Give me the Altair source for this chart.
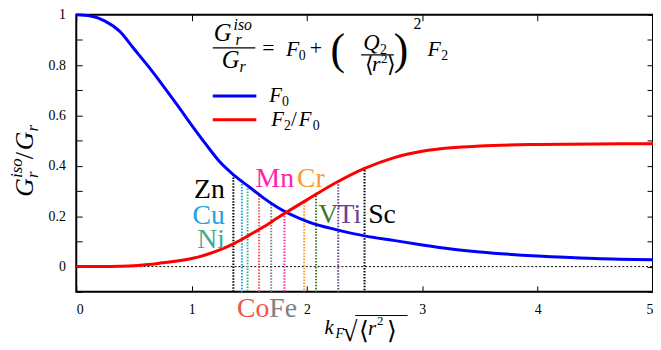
import altair as alt
import pandas as pd

# ---- data ----
kf = [0, 0.125, 0.25, 0.375, 0.5, 0.625, 0.75, 0.875, 1.0, 1.125, 1.25, 1.375, 1.5, 1.625, 1.75,
      2.0, 2.25, 2.5, 2.75, 3.0, 3.25, 3.5, 4.0, 4.5, 5.0]
f0 = [1.0, 0.995, 0.975, 0.935, 0.865, 0.795, 0.72, 0.642, 0.562, 0.485, 0.413, 0.36, 0.316, 0.272, 0.234,
      0.18, 0.147, 0.122, 0.104, 0.086, 0.07, 0.058, 0.042, 0.032, 0.027]
f2f0 = [0.0, 0.0, 0.0, 0.001, 0.003, 0.008, 0.015, 0.022, 0.032, 0.047, 0.067, 0.093, 0.125, 0.158, 0.195,
        0.265, 0.333, 0.39, 0.432, 0.458, 0.472, 0.479, 0.485, 0.487, 0.488]
series_names = ["F0", "F2/F0"]

elements = ["Zn", "Cu", "Ni", "Co", "Fe", "Mn", "Cr", "V", "Ti", "Sc"]
el_x = [1.362, 1.436, 1.485, 1.585, 1.69, 1.805, 1.976, 2.079, 2.271, 2.499]
el_top = [0.366, 0.34, 0.322, 0.283, 0.248, 0.213, 0.255, 0.293, 0.339, 0.395]

x_ticks = [0, 1, 2, 3, 4, 5]
y_ticks = [round(-0.1 + 0.1 * i, 1) for i in range(12)]

# ---- styles / layout ----
series_colors = ["#0000ff", "#ff0000"]
el_colors = ["#000000", "#1fa3e0", "#45aa8a", "#f2544c", "#7f7f7f",
             "#ff22aa", "#fb9b2f", "#3d7a28", "#6a3f96", "#000000"]
lab_x = [1.288, 1.288, 1.288, 1.674, 1.674, 1.554, 1.914, 2.098, 2.265, 2.531]
lab_y = [0.272, 0.171, 0.074, -0.202, -0.202, 0.315, 0.315, 0.175, 0.175, 0.175]
lab_align = ["right", "right", "right", "right", "left", "left", "left", "left", "left", "left"]

W, H = 583, 280
OX, OY = 77, 13          # page position of the plot origin
SERIF = "Liberation Serif"

xs = alt.Scale(domain=[0, 5], nice=False, zero=False)
ys = alt.Scale(domain=[-0.1, 1.0], nice=False, zero=False)

df_curves = pd.DataFrame({
    "kf": kf + kf,
    "val": f0 + f2f0,
    "series": [series_names[0]] * len(kf) + [series_names[1]] * len(kf),
})
df_el = pd.DataFrame({"el": elements, "x": el_x, "top": el_top, "col": el_colors,
                      "lx": lab_x, "ly": lab_y, "al": lab_align})
one = pd.DataFrame({"a": [0]})

ylabel_expr = "(round(datum.value*10) % 2 == 0 && datum.value > -0.05) ? format(datum.value, '~g') : ''"

curves = alt.Chart(df_curves).mark_line(strokeWidth=3, interpolate="monotone").encode(
    x=alt.X("kf:Q", scale=xs, axis=alt.Axis(values=x_ticks, title=None, offset=-6, tickSize=6,
                                            labelPadding=11, domain=False, grid=False, format="~g")),
    y=alt.Y("val:Q", scale=ys, axis=alt.Axis(values=y_ticks, title=None, offset=-6, tickSize=6,
                                             labelPadding=11, domain=False, grid=False,
                                             labelExpr=ylabel_expr)),
    color=alt.Color("series:N", sort=series_names,
                    scale=alt.Scale(domain=series_names, range=series_colors), legend=None),
)

ghost = alt.Chart(df_curves).mark_point(opacity=0).encode(
    x=alt.X("kf:Q", scale=xs, axis=alt.Axis(orient="top", values=x_ticks, title=None, offset=-6,
                                            tickSize=6, labels=False, domain=False, grid=False)),
    y=alt.Y("val:Q", scale=ys, axis=alt.Axis(orient="right", values=y_ticks, title=None, offset=-6,
                                             tickSize=6, labels=False, domain=False, grid=False)),
)

zero = alt.Chart(one).mark_rule(color="black", strokeWidth=1, strokeDash=[2, 2]).encode(
    y=alt.YDatum(0, scale=ys, axis=None), x=alt.value(0), x2=alt.value(W))

rules = alt.Chart(df_el).mark_rule(strokeWidth=2, strokeDash=[1.5, 1.5]).encode(
    x=alt.X("x:Q", scale=xs, axis=None),
    y=alt.Y("top:Q", scale=ys, axis=None),
    y2=alt.value(H),
    color=alt.Color("col:N", scale=None),
)


def el_labels(align):
    return alt.Chart(df_el).transform_filter(alt.datum.al == align).mark_text(
        font=SERIF, fontSize=28, align=align, baseline="alphabetic").encode(
        x=alt.X("lx:Q", scale=xs, axis=None),
        y=alt.Y("ly:Q", scale=ys, axis=None),
        text="el:N",
        color=alt.Color("col:N", scale=None),
    )


def T(s, px, py, size, italic=False, angle=None, dx=0, dy=0):
    """text piece at page coordinates (px, py) = left edge / baseline"""
    kw = dict(text=s, fontSize=size, font=SERIF, color="black", align="left", baseline="alphabetic")
    if italic:
        kw["fontStyle"] = "italic"
    if angle is not None:
        kw["angle"] = angle
    if dx:
        kw["dx"] = dx
    if dy:
        kw["dy"] = dy
    return alt.Chart(one).mark_text(**kw).encode(x=alt.value(px - OX), y=alt.value(py - OY))


def R(x1, x2, y, w=1.2, color="black"):
    """horizontal stroke at page coordinates"""
    return alt.Chart(one).mark_rule(color=color, strokeWidth=w).encode(
        x=alt.value(x1 - OX), x2=alt.value(x2 - OX), y=alt.value(y - OY))

# equation
eq = [
    T("G", 216, 40, 25, True), T("iso", 236, 28, 16, True), T("r", 238, 44, 16, True),
    R(215, 258, 46.5),
    T("G", 224, 67, 25, True), T("r", 242, 71, 16, True),
    T("=", 265, 54, 22), T("F", 289, 55, 22, True), T("0", 302, 59, 14),
    T("+", 313, 54, 22), T("(", 334, 63, 44),
    T("Q", 367, 49, 23, True), T("2", 384, 53, 14),
    R(365, 398, 53.5),
    T("⟨", 369, 71, 22), T("r", 376, 70, 22, True), T("2", 385, 62, 13), T("⟩", 391, 71, 22),
    T(")", 398, 63, 44), T("2", 418, 27, 16),
    T("F", 432, 55, 22, True), T("2", 446, 59, 14),
]

# legend (drawn by hand, next to the formula)
legend = [
    R(215, 259, 95, 3, series_colors[0]), R(215, 259, 119, 3, series_colors[1]),
    T("F", 272, 101, 21, True), T("0", 285, 105, 14),
    T("F", 274, 125, 21, True), T("2", 287, 129, 14), T("/", 294, 125, 21),
    T("F", 302, 125, 21, True), T("0", 316, 129, 14),
]

# x title
xt = [
    T("k", 328, 336, 21, True), T("F", 339, 340, 14, True), T("√", 346, 343, 28),
    R(359, 412, 317, 1),
    T("⟨", 363, 341, 25), T("r", 372, 337, 21, True), T("2", 381, 327, 13), T("⟩", 391, 341, 25),
]

# y title (rotated, reads bottom to top)
yt = [
    T("G", 33, 197, 26, True, angle=270),
    T("iso", 33, 197, 17, True, angle=270, dx=19, dy=-11),
    T("r", 33, 197, 17, True, angle=270, dx=19, dy=5),
    T("/", 33, 197, 26, angle=270, dx=38),
    T("G", 33, 197, 26, True, angle=270, dx=47),
    T("r", 33, 197, 17, True, angle=270, dx=66, dy=5),
]

chart = alt.layer(
    zero, rules, curves, ghost, el_labels("right"), el_labels("left"), *eq, *legend, *xt, *yt
).resolve_scale(color="independent").resolve_axis(x="independent", y="independent").properties(
    width=W, height=H,
    padding={"left": OX - 8, "top": OY - 8, "right": 0, "bottom": 57},
    autosize=alt.AutoSizeParams(type="none"),
    background="white",
).configure_view(stroke="black", strokeWidth=2).configure_axis(
    labelFont=SERIF, labelFontSize=14, labelColor="black", tickColor="black", tickWidth=1
)

chart.save("out.html", embed_options={"renderer": "svg", "actions": False})
